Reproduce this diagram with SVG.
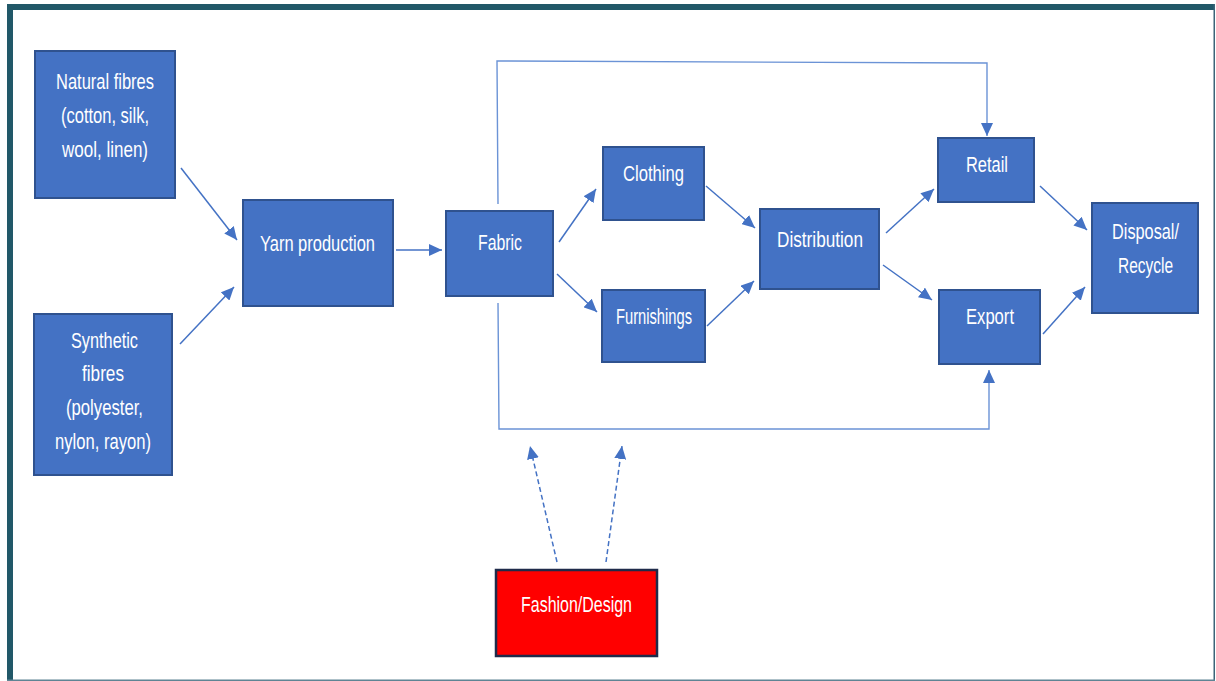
<svg xmlns="http://www.w3.org/2000/svg" width="1216" height="681" viewBox="0 0 1216 681">
<style>
.box{fill:#4472C4;stroke:#2F528F;stroke-width:2}
.red{fill:#FF0000;stroke:#1F2B4A;stroke-width:2.5}
.t{font-family:"Liberation Sans",Arial,sans-serif;font-size:22px;fill:#FFFFFF}
.c{fill:none;stroke:#4472C4;stroke-width:1.5}
.e{fill:none;stroke:#6B93D6;stroke-width:1.4}
.d{fill:none;stroke:#4472C4;stroke-width:1.5;stroke-dasharray:5 3}
</style>
<defs>
<marker id="ah" markerUnits="userSpaceOnUse" markerWidth="14" markerHeight="12" refX="13" refY="6" orient="auto">
<path d="M0,0 L13,6 L0,12 Z" fill="#4472C4"/>
</marker>
</defs>
<rect x="0" y="0" width="1216" height="681" fill="#FFFFFF"/>
<g id="frame">
<rect x="7" y="4" width="6" height="677" fill="#215868"/>
<rect x="7" y="4" width="1208" height="6" fill="#215868"/>
<rect x="1213.5" y="4" width="1.5" height="677" fill="#3C6478"/>
<rect x="7" y="679.5" width="1208" height="1.5" fill="#5E8494"/>
</g>
<g id="connectors">
<line class="c" x1="181" y1="168" x2="237" y2="240" marker-end="url(#ah)"/>
<line class="c" x1="180" y1="344" x2="234" y2="287" marker-end="url(#ah)"/>
<line class="c" x1="396" y1="250" x2="442" y2="250" marker-end="url(#ah)"/>
<line class="c" x1="559" y1="242" x2="596" y2="189" marker-end="url(#ah)"/>
<line class="c" x1="557" y1="274" x2="597" y2="312" marker-end="url(#ah)"/>
<line class="c" x1="706" y1="186" x2="755" y2="228" marker-end="url(#ah)"/>
<line class="c" x1="707" y1="326" x2="754" y2="281" marker-end="url(#ah)"/>
<line class="c" x1="886" y1="233" x2="934" y2="189" marker-end="url(#ah)"/>
<line class="c" x1="883" y1="265" x2="932" y2="300" marker-end="url(#ah)"/>
<line class="c" x1="1040" y1="186" x2="1087" y2="230" marker-end="url(#ah)"/>
<line class="c" x1="1043" y1="334" x2="1085" y2="287" marker-end="url(#ah)"/>
<polyline class="e" points="498,204 497,61 987,63 987,136" marker-end="url(#ah)"/>
<polyline class="e" points="498,303 499,429 989,429 989,370" marker-end="url(#ah)"/>
<line class="d" x1="557" y1="562" x2="530" y2="446" marker-end="url(#ah)"/>
<line class="d" x1="606" y1="562" x2="622" y2="446" marker-end="url(#ah)"/>
</g>
<g id="natural">
<rect class="box" x="35" y="51" width="140" height="147"/>
<text class="t" x="56" y="89" textLength="98" lengthAdjust="spacingAndGlyphs">Natural fibres</text>
<text class="t" x="61" y="123" textLength="88" lengthAdjust="spacingAndGlyphs">(cotton, silk,</text>
<text class="t" x="62" y="157" textLength="86" lengthAdjust="spacingAndGlyphs">wool, linen)</text>
</g>
<g id="synthetic">
<rect class="box" x="34" y="314" width="138" height="161"/>
<text class="t" x="71" y="348" textLength="67" lengthAdjust="spacingAndGlyphs">Synthetic</text>
<text class="t" x="82" y="381" textLength="42" lengthAdjust="spacingAndGlyphs">fibres</text>
<text class="t" x="66" y="415" textLength="77" lengthAdjust="spacingAndGlyphs">(polyester,</text>
<text class="t" x="55" y="449" textLength="96" lengthAdjust="spacingAndGlyphs">nylon, rayon)</text>
</g>
<g id="yarn">
<rect class="box" x="243" y="200" width="150" height="106"/>
<text class="t" x="260" y="251" textLength="115" lengthAdjust="spacingAndGlyphs">Yarn production</text>
</g>
<g id="fabric">
<rect class="box" x="446" y="211" width="107" height="85"/>
<text class="t" x="478" y="250" textLength="44" lengthAdjust="spacingAndGlyphs">Fabric</text>
</g>
<g id="clothing">
<rect class="box" x="603" y="147" width="101" height="73"/>
<text class="t" x="623" y="181" textLength="61" lengthAdjust="spacingAndGlyphs">Clothing</text>
</g>
<g id="furnishings">
<rect class="box" x="602" y="290" width="103" height="72"/>
<text class="t" x="616" y="324" textLength="76" lengthAdjust="spacingAndGlyphs">Furnishings</text>
</g>
<g id="distribution">
<rect class="box" x="760" y="209" width="119" height="80"/>
<text class="t" x="777" y="247" textLength="86" lengthAdjust="spacingAndGlyphs">Distribution</text>
</g>
<g id="retail">
<rect class="box" x="938" y="138" width="96" height="64"/>
<text class="t" x="966" y="172" textLength="42" lengthAdjust="spacingAndGlyphs">Retail</text>
</g>
<g id="export">
<rect class="box" x="939" y="290" width="101" height="74"/>
<text class="t" x="966" y="324" textLength="48" lengthAdjust="spacingAndGlyphs">Export</text>
</g>
<g id="disposal">
<rect class="box" x="1092" y="203" width="106" height="110"/>
<text class="t" x="1112" y="239" textLength="67" lengthAdjust="spacingAndGlyphs">Disposal/</text>
<text class="t" x="1118" y="273" textLength="55" lengthAdjust="spacingAndGlyphs">Recycle</text>
</g>
<g id="fashion">
<rect class="red" x="496" y="570" width="161" height="86"/>
<text class="t" x="521" y="612" textLength="111" lengthAdjust="spacingAndGlyphs">Fashion/Design</text>
</g>
</svg>
